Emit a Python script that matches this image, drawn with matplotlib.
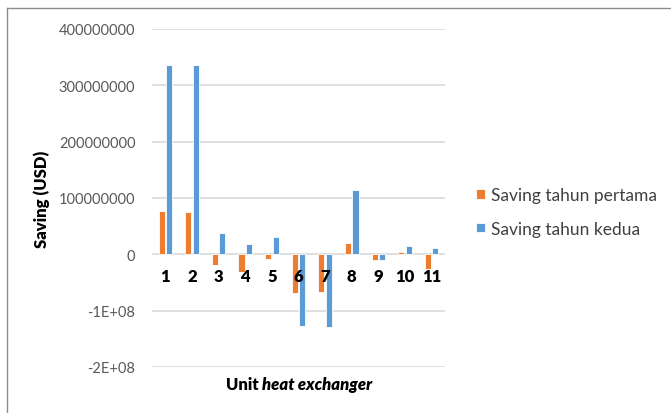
import matplotlib.pyplot as plt
import matplotlib.lines as mlines
from matplotlib.offsetbox import TextArea, HPacker, AnchoredOffsetbox
import numpy as np

# --- DATA ---
units = ["1", "2", "3", "4", "5", "6", "7", "8", "9", "10", "11"]
saving_tahun_pertama = [77e6, 75e6, -19.5e6, -31e6, -8e6, -68e6, -66e6, 21e6, -10e6, 5e6, -26e6]
saving_tahun_kedua = [336e6, 336e6, 38e6, 19e6, 30e6, -127e6, -129e6, 115e6, -10e6, 14e6, 11e6]
y_ticks = [400000000, 300000000, 200000000, 100000000, 0, -100000000, -200000000]
y_tick_labels = ["400000000", "300000000", "200000000", "100000000", "0", "-1E+08", "-2E+08"]

# --- STYLE ---
ORANGE = "#ED7D31"
BLUE = "#5B9BD5"
GRID = "#D9D9D9"
TXT_GRAY = "#595959"

plt.rcParams.update({
    "font.family": ["Lato", "DejaVu Sans"],
})

W, H = 671, 414
fig = plt.figure(figsize=(W / 100, H / 100), dpi=100)
ax = fig.add_axes([152 / W, 1 - 368 / H, (445 - 152) / W, (368 - 30) / H])

x = np.arange(len(units))
bw = 0.23
ax.bar(x - 0.14, saving_tahun_pertama, width=bw, color=ORANGE, edgecolor="white",
       linewidth=0.6, label="Saving tahun pertama", zorder=3)
ax.bar(x + 0.14, saving_tahun_kedua, width=bw, color=BLUE, edgecolor="white",
       linewidth=0.6, label="Saving tahun kedua", zorder=3)

ax.set_xlim(-0.5, len(units) - 0.5)
ax.set_ylim(-200000000, 400000000)
ax.set_yticks(y_ticks)
ax.set_yticklabels(y_tick_labels, color=TXT_GRAY, fontsize=10.5)
ax.tick_params(axis="y", length=0, pad=12)
ax.grid(axis="y", color=GRID, linewidth=1.2, zorder=0)
ax.set_axisbelow(True)
for s in ax.spines.values():
    s.set_visible(False)

# category labels sit just under the zero line
ax.set_xticks([])
for i, lab in enumerate(units):
    ax.text(i, -39e6, lab, ha="center", va="center",
            fontsize=12, fontweight="heavy", color="black", zorder=4)

ax.set_ylabel("Saving (USD)", fontsize=12, fontweight="heavy", color="black", labelpad=6)

# x-axis title: "Unit" bold + "heat exchanger" bold italic
t1 = TextArea("Unit", textprops=dict(fontsize=12, fontweight="heavy", color="black"))
t2 = TextArea("heat exchanger", textprops=dict(fontsize=12, fontweight="heavy",
                                                fontstyle="italic", color="black"))
box = HPacker(children=[t1, t2], align="baseline", pad=0, sep=3)
anch = AnchoredOffsetbox(loc="center", child=box, frameon=False,
                         bbox_to_anchor=(299 / W, 1 - 385 / H),
                         bbox_transform=fig.transFigure, borderpad=0, pad=0)
fig.add_artist(anch)

leg = fig.legend(loc="center left", bbox_to_anchor=(476 / W, 1 - 213 / H),
                 frameon=False, fontsize=12.5, handlelength=0.5, handleheight=0.5,
                 handletextpad=0.35, labelspacing=1.0, labelcolor="#404040",
                 borderpad=0, borderaxespad=0)

# chart-area border (top and left visible)
fig.add_artist(mlines.Line2D([7 / W, 1], [1 - 9 / H, 1 - 9 / H], color="#8C8C8C",
                             linewidth=1.0, transform=fig.transFigure))
fig.add_artist(mlines.Line2D([7 / W, 7 / W], [0, 1 - 9 / H], color="#8C8C8C",
                             linewidth=1.0, transform=fig.transFigure))

fig.savefig("out.png", dpi=100, facecolor="white")
